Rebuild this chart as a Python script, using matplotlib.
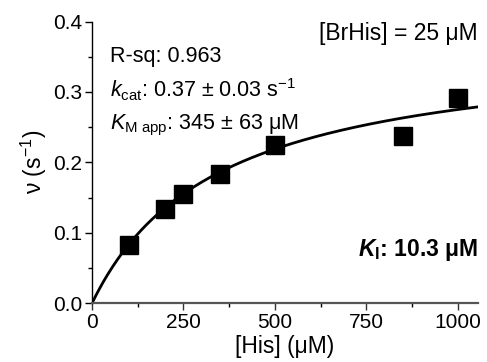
import numpy as np
import matplotlib
matplotlib.use("Agg")
import matplotlib.pyplot as plt
from matplotlib.ticker import MultipleLocator

plt.rcParams['font.family'] = ['Liberation Sans', 'DejaVu Sans']
plt.rcParams['mathtext.fontset'] = 'custom'
plt.rcParams['mathtext.rm'] = 'Liberation Sans'
plt.rcParams['mathtext.it'] = 'Liberation Sans:italic'
plt.rcParams['mathtext.bf'] = 'Liberation Sans:bold'
plt.rcParams['mathtext.bfit'] = 'Liberation Sans:bold:italic'

# Substrate concentrations (uM) and observed rates (s^-1)
his_conc = [100, 200, 250, 350, 500, 850, 1000]
rate = [0.083, 0.134, 0.155, 0.184, 0.224, 0.238, 0.291]

# Michaelis-Menten fit parameters
kcat = 0.37
km_app = 345

x_ticks = [0, 250, 500, 750, 1000]
y_ticks = [0.0, 0.1, 0.2, 0.3, 0.4]

W, H = 487, 362
fig = plt.figure(figsize=(W / 100, H / 100), dpi=100)
ax = fig.add_axes([92 / W, 1 - 303.3 / H, (478 - 92) / W, (303.3 - 21.5) / H])

s = np.linspace(0, 1055, 400)
ax.plot(s, kcat * s / (km_app + s), color='black', lw=2.0, zorder=2)
ax.plot(his_conc, rate, linestyle='none', marker='s', ms=12.5, color='black', zorder=3)

ax.set_xlim(0, 1055)
ax.set_ylim(0, 0.4)
ax.set_xticks(x_ticks)
ax.set_yticks(y_ticks)
ax.set_xticklabels([str(v) for v in x_ticks])
ax.set_yticklabels([f"{v:.1f}" for v in y_ticks])
ax.xaxis.set_minor_locator(MultipleLocator(125))
ax.yaxis.set_minor_locator(MultipleLocator(0.05))

for side in ('top', 'right'):
    ax.spines[side].set_visible(False)
ax.spines['left'].set_color('black')
ax.spines['left'].set_linewidth(1.0)
ax.spines['bottom'].set_color('#555555')
ax.spines['bottom'].set_linewidth(1.6)

ax.tick_params(axis='both', which='major', direction='out', length=5, width=1,
               labelsize=15, color='black', pad=2)
ax.tick_params(axis='both', which='minor', direction='out', length=3, width=1, color='black')
ax.tick_params(axis='x', colors='#333333', labelcolor='black')

ax.set_xlabel('[His] (μM)', fontsize=16.5, labelpad=2)
ax.set_ylabel('ν (s$^{-1}$)', fontsize=16.5, labelpad=3)

ax.text(0.047, 0.857, 'R-sq: 0.963', transform=ax.transAxes, fontsize=15.5, va='baseline')
ax.text(0.047, 0.731, r'$k_{\mathrm{cat}}$: 0.37 ± 0.03 s$^{-1}$', transform=ax.transAxes,
        fontsize=15.5, va='baseline')
ax.text(0.047, 0.617, r'$K_{\mathrm{M\ app}}$: 345 ± 63 μM', transform=ax.transAxes,
        fontsize=15.5, va='baseline')
ax.text(1.0, 0.934, '[BrHis] = 25 μM', transform=ax.transAxes, fontsize=16.5,
        ha='right', va='baseline')
ax.text(1.0, 0.168, r'$\boldsymbol{K}_{\mathbf{I}}$: 10.3 μM', transform=ax.transAxes,
        fontsize=16.5, ha='right', va='baseline', fontweight='bold')

fig.savefig('out.png', dpi=100)
